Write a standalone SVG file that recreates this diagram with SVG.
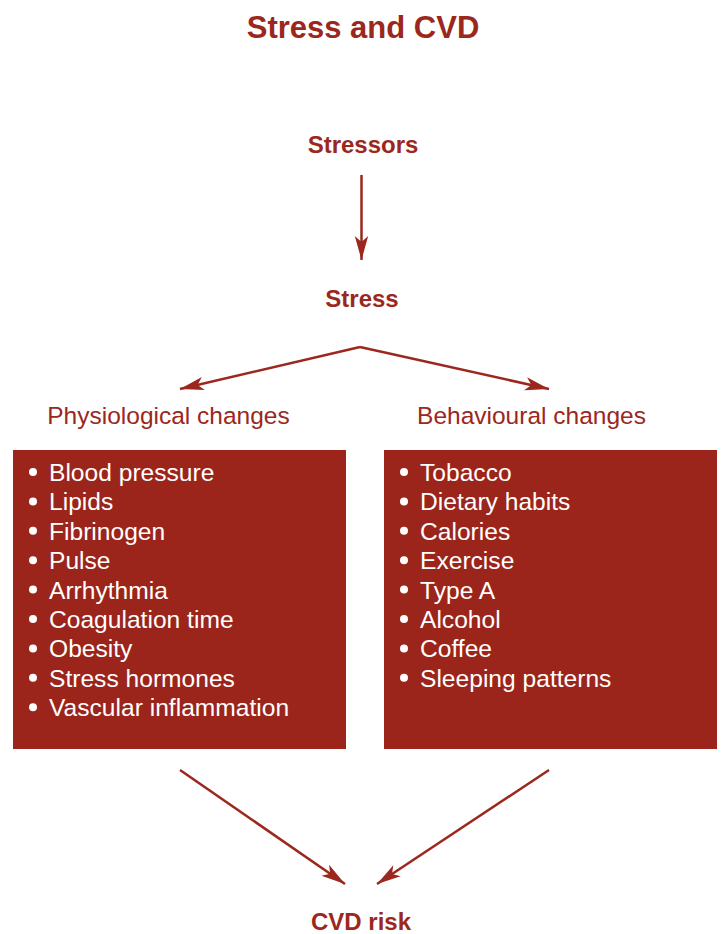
<svg xmlns="http://www.w3.org/2000/svg" width="722" height="934" viewBox="0 0 722 934">
<defs>
<style>
.t{font-family:"Liberation Sans",Arial,sans-serif;fill:#9b271d}
.b{font-weight:bold}
.box{fill:#9b251a}
.li{font-family:"Liberation Sans",Arial,sans-serif;fill:#ffffff;font-size:24.6px}
.dot{fill:#ffffff}
.c{stroke:#9b271d;stroke-width:2.5;fill:none}
</style>
<marker id="ah" markerUnits="userSpaceOnUse" markerWidth="26" markerHeight="16" viewBox="0 0 26 16" refX="24" refY="8" orient="auto">
<path d="M0,1.3 L24,8 L0,14.7 L6,8 z" fill="#9b271d"/>
</marker>
</defs>
<rect width="722" height="934" fill="#ffffff"/>
<text class="t b" x="363" y="38" font-size="31" text-anchor="middle">Stress and CVD</text>
<g id="stressors"><text class="t b" x="363" y="153" font-size="24" text-anchor="middle">Stressors</text></g>
<g id="stress"><text class="t b" x="362" y="307" font-size="24" text-anchor="middle">Stress</text></g>
<g id="physiological">
<text class="t" x="168.5" y="424" font-size="24.5" text-anchor="middle">Physiological changes</text>
<rect class="box" x="13" y="450" width="333" height="299"/>
<g class="dot"><circle cx="33" cy="472" r="4"/><circle cx="33" cy="501.4" r="4"/><circle cx="33" cy="530.8" r="4"/><circle cx="33" cy="560.2" r="4"/><circle cx="33" cy="589.6" r="4"/><circle cx="33" cy="619" r="4"/><circle cx="33" cy="648.4" r="4"/><circle cx="33" cy="677.8" r="4"/><circle cx="33" cy="707.2" r="4"/></g>
<text class="li" x="49" y="481">Blood pressure</text>
<text class="li" x="49" y="510.4">Lipids</text>
<text class="li" x="49" y="539.8">Fibrinogen</text>
<text class="li" x="49" y="569.2">Pulse</text>
<text class="li" x="49" y="598.6">Arrhythmia</text>
<text class="li" x="49" y="628">Coagulation time</text>
<text class="li" x="49" y="657.4">Obesity</text>
<text class="li" x="49" y="686.8">Stress hormones</text>
<text class="li" x="49" y="716.2">Vascular inflammation</text>
</g>
<g id="behavioural">
<text class="t" x="531.5" y="424" font-size="24.5" text-anchor="middle">Behavioural changes</text>
<rect class="box" x="384" y="450" width="333" height="299"/>
<g class="dot"><circle cx="404" cy="472" r="4"/><circle cx="404" cy="501.4" r="4"/><circle cx="404" cy="530.8" r="4"/><circle cx="404" cy="560.2" r="4"/><circle cx="404" cy="589.6" r="4"/><circle cx="404" cy="619" r="4"/><circle cx="404" cy="648.4" r="4"/><circle cx="404" cy="677.8" r="4"/></g>
<text class="li" x="420" y="481">Tobacco</text>
<text class="li" x="420" y="510.4">Dietary habits</text>
<text class="li" x="420" y="539.8">Calories</text>
<text class="li" x="420" y="569.2">Exercise</text>
<text class="li" x="420" y="598.6">Type A</text>
<text class="li" x="420" y="628">Alcohol</text>
<text class="li" x="420" y="657.4">Coffee</text>
<text class="li" x="420" y="686.8">Sleeping patterns</text>
</g>
<g id="cvdrisk"><text class="t b" x="361" y="930" font-size="24" text-anchor="middle">CVD risk</text></g>
<g id="connectors">
<line class="c" x1="361.5" y1="175" x2="361.5" y2="260" marker-end="url(#ah)"/>
<path class="c" d="M360,347 L180,389" marker-end="url(#ah)"/>
<path class="c" d="M360,347 L549,389" marker-end="url(#ah)"/>
<line class="c" x1="180" y1="770" x2="345" y2="884" marker-end="url(#ah)"/>
<line class="c" x1="549" y1="770" x2="377" y2="884" marker-end="url(#ah)"/>
</g>
</svg>
